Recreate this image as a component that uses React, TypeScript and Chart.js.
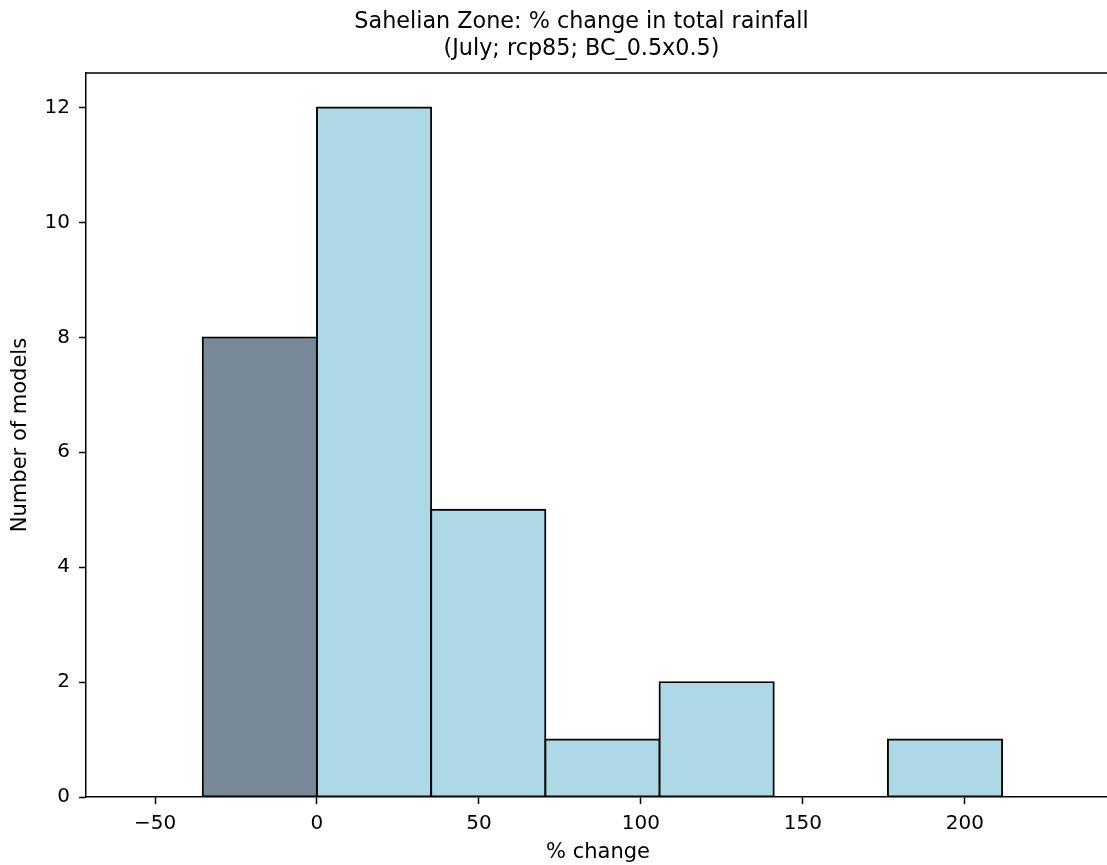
import React, { useEffect, useRef } from 'react';
import { Chart, registerables } from 'chart.js';
Chart.register(...registerables);

// ---- data ----
const binEdges = [-35.3, 0, 35.25, 70.5, 105.75, 141.0, 176.25, 211.5];
const counts = [8, 12, 5, 1, 2, 0, 1];
const xTicks = [-50, 0, 50, 100, 150, 200];
const yTicks = [0, 2, 4, 6, 8, 10, 12];
const titleLines = ['Sahelian Zone: % change in total rainfall', '(July; rcp85; BC_0.5x0.5)'];
const xLabel = '% change';
const yLabel = 'Number of models';
const xRange = [-71.3, 244.8];
const yRange = [0, 12.6];
const negColor = '#778899';
const posColor = '#add8e6';

const FONT = 'DejaVu Sans';

const frame = {
  id: 'frame',
  afterDraw(chart: any) {
    const { ctx, chartArea } = chart;
    const { left, right, top, bottom } = chartArea;
    ctx.save();
    ctx.strokeStyle = '#000';
    ctx.lineWidth = 1.5;
    ctx.beginPath();
    ctx.moveTo(left, top);
    ctx.lineTo(right, top);
    ctx.lineTo(right, bottom);
    ctx.stroke();
    ctx.restore();
  },
};

export default function App() {
  const ref = useRef<HTMLCanvasElement | null>(null);
  useEffect(() => {
    if (!ref.current) return;
    const centers = counts.map((_, i) => (binEdges[i] + binEdges[i + 1]) / 2);
    const colors = counts.map((_, i) => (binEdges[i + 1] <= 0 ? negColor : posColor));
    const chart = new Chart(ref.current, {
      type: 'bar',
      data: {
        datasets: [
          {
            data: centers.map((x, i) => ({ x, y: counts[i] })),
            backgroundColor: colors,
            borderColor: '#000',
            borderWidth: 1.9,
            borderSkipped: false,
            inflateAmount: 0.95,
            barPercentage: 1,
            categoryPercentage: 1,
          } as any,
        ],
      },
      options: {
        animation: false,
        responsive: false,
        maintainAspectRatio: false,
        layout: { padding: 0 },
        plugins: {
          legend: { display: false },
          tooltip: { enabled: false },
          title: {
            display: true,
            text: titleLines,
            color: '#000',
            font: { family: FONT, size: 22.3, weight: 'normal', lineHeight: 1.2 },
            padding: { top: 9.3, bottom: 10.2 },
          },
        },
        scales: {
          x: {
            type: 'linear',
            min: xRange[0],
            max: xRange[1],
            offset: false,
            afterBuildTicks: (s: any) => {
              s.ticks = xTicks.map((v) => ({ value: v }));
            },
            afterFit: (s: any) => {
              s.height = 68;
            },
            grid: {
              display: true,
              drawOnChartArea: false,
              drawTicks: true,
              tickLength: 7,
              tickWidth: 1.5,
              tickColor: '#000',
              offset: false,
            },
            border: { display: true, color: '#000', width: 1.5 },
            ticks: {
              color: '#000',
              font: { family: FONT, size: 20 },
              padding: 8,
              maxRotation: 0,
              autoSkip: false,
              callback: (v: any) => String(v).replace('-', '\u2212'),
            },
            title: {
              display: true,
              text: xLabel,
              color: '#000',
              font: { family: FONT, size: 21 },
              padding: { top: 0, bottom: 0 },
            },
          },
          y: {
            type: 'linear',
            position: 'left',
            min: yRange[0],
            max: yRange[1],
            afterBuildTicks: (s: any) => {
              s.ticks = yTicks.map((v) => ({ value: v }));
            },
            afterFit: (s: any) => {
              s.width = 86;
            },
            grid: {
              display: true,
              drawOnChartArea: false,
              drawTicks: true,
              tickLength: 7,
              tickWidth: 1.5,
              tickColor: '#000',
            },
            border: { display: true, color: '#000', width: 1.5 },
            ticks: {
              color: '#000',
              font: { family: FONT, size: 20 },
              padding: 9,
              autoSkip: false,
            },
            title: {
              display: true,
              text: yLabel,
              color: '#000',
              font: { family: FONT, size: 21 },
              padding: { top: 7.5, bottom: 0 },
            },
          },
          y2: {
            type: 'linear',
            position: 'right',
            display: true,
            grid: { display: false },
            ticks: { display: false },
            border: { display: false },
            afterFit: (s: any) => {
              s.width = 53;
            },
          },
        },
      } as any,
      plugins: [frame],
    });
    return () => chart.destroy();
  }, []);

  return (
    <div
      style={{
        position: 'absolute',
        left: 0,
        top: 0,
        width: 1107,
        height: 865,
        overflow: 'hidden',
        background: '#fff',
      }}
    >
      <canvas ref={ref} width={1163} height={865} style={{ display: 'block', width: 1163, height: 865 }} />
    </div>
  );
}
